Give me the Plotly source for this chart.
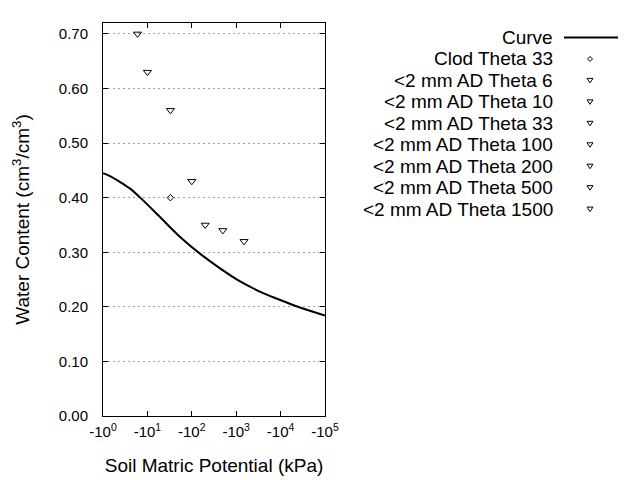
import plotly.graph_objects as go

# ---- data ----
curve_kpa = [1, 1.4, 2.4, 4, 6.7, 19, 53, 150, 425, 1200, 3400, 9500, 22700, 100000]
curve_theta = [0.445, 0.440, 0.429, 0.417, 0.401, 0.365, 0.329, 0.298, 0.271, 0.247, 0.228, 0.213, 0.201, 0.184]

point_names = ["Clod Theta 33", "<2 mm AD Theta 6", "<2 mm AD Theta 10", "<2 mm AD Theta 33",
               "<2 mm AD Theta 100", "<2 mm AD Theta 200", "<2 mm AD Theta 500", "<2 mm AD Theta 1500"]
point_kpa = [33, 6, 10, 33, 100, 200, 500, 1500]
point_theta = [0.40, 0.70, 0.63, 0.56, 0.43, 0.35, 0.34, 0.32]
point_symbols = ["diamond-open"] + ["triangle-down-open"] * 7

x_tickvals = [1, 10, 100, 1000, 10000, 100000]
x_ticktext = ["-10<sup>0</sup>", "-10<sup>1</sup>", "-10<sup>2</sup>", "-10<sup>3</sup>",
              "-10<sup>4</sup>", "-10<sup>5</sup>"]
y_tickvals = [0.0, 0.1, 0.2, 0.3, 0.4, 0.5, 0.6, 0.7]

FONT = "Liberation Sans, Arial, sans-serif"

# plot area geometry (pixels)
L, R, T, B = 103, 325, 23, 416
W, H = R - L, B - T

def px(x):
    return (x - L) / W

def py(y):
    return (B - y) / H

fig = go.Figure()
fig.add_trace(go.Scatter(x=curve_kpa, y=curve_theta, mode="lines", name="Curve",
                         line=dict(color="black", width=2, shape="spline", smoothing=1.0),
                         showlegend=False))
for n, xv, yv, s in zip(point_names, point_kpa, point_theta, point_symbols):
    fig.add_trace(go.Scatter(x=[xv], y=[yv], mode="markers", name=n, showlegend=False,
                             marker=dict(symbol=s, size=5 if s.startswith("diamond") else 7,
                                         color="black", line=dict(color="black", width=1))))

fig.update_layout(
    width=640, height=480,
    margin=dict(l=L, r=640 - R, t=T, b=480 - B, autoexpand=False),
    paper_bgcolor="white", plot_bgcolor="white",
    font=dict(family=FONT, color="black"),
    showlegend=False,
)
fig.update_xaxes(type="log", range=[0, 5], tickvals=x_tickvals, ticktext=x_ticktext,
                 ticks="inside", ticklen=5, tickcolor="black", showline=True, linecolor="black",
                 linewidth=1, mirror="ticks", showgrid=False, zeroline=False, automargin=False,
                 tickfont=dict(size=15, family=FONT), ticklabelstandoff=2,
                 title=dict(text="Soil Matric Potential (kPa)", font=dict(size=19, family=FONT),
                            standoff=19))
fig.update_yaxes(range=[0, 0.72], tickvals=y_tickvals, tickformat=".2f",
                 ticks="inside", ticklen=5, tickcolor="black", showline=True, linecolor="black",
                 linewidth=1, mirror="ticks", showgrid=True, gridcolor="#a0a0a0",
                 griddash="2px,3px", gridwidth=1, zeroline=False, automargin=False,
                 tickfont=dict(size=15, family=FONT), ticklabelstandoff=11,
                 title=dict(text="Water Content (cm<sup>3</sup>/cm<sup>3</sup>)",
                            font=dict(size=19, family=FONT), standoff=24))

# ---- custom legend (text right-aligned, symbol on right) ----
legend_labels = ["Curve"] + point_names
legend_syms = ["line"] + point_symbols
row0, dy = 37.5, 21.45
text_right = 555
sym_x = 590
for i, (lab, sym) in enumerate(zip(legend_labels, legend_syms)):
    yy = row0 + i * dy
    fig.add_annotation(xref="paper", yref="paper", x=px(text_right), y=py(yy),
                       text=lab.replace("<", "&lt;"), showarrow=False,
                       xanchor="right", yanchor="middle",
                       font=dict(size=19, family=FONT, color="black"))
    if sym == "line":
        fig.add_shape(type="line", xref="paper", yref="paper", x0=px(564), x1=px(618),
                      y0=py(yy), y1=py(yy), line=dict(color="black", width=2))
    elif sym.startswith("diamond"):
        fig.add_shape(type="path", xref="paper", yref="paper", xsizemode="pixel",
                      ysizemode="pixel", xanchor=px(sym_x), yanchor=py(yy),
                      path="M -2.5,0 L 0,2.5 L 2.5,0 L 0,-2.5 Z",
                      line=dict(color="black", width=1))
    else:
        fig.add_shape(type="path", xref="paper", yref="paper", xsizemode="pixel",
                      ysizemode="pixel", xanchor=px(sym_x), yanchor=py(yy),
                      path="M -3,2 L 3,2 L 0,-2.5 Z",
                      line=dict(color="black", width=1))

fig.write_html("out.html")
